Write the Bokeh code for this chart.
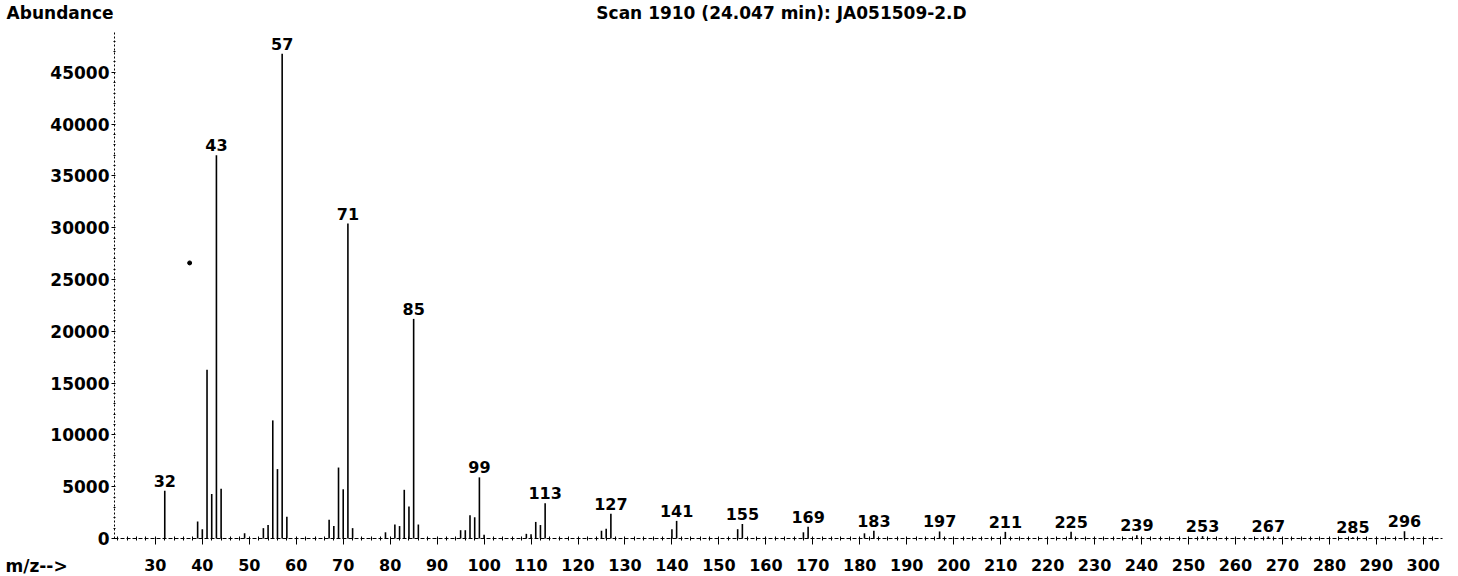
from bokeh.plotting import figure
from bokeh.models import Range1d, Label, FixedTicker
from bokeh.core.properties import value
from bokeh.embed import file_html
from bokeh.resources import INLINE

# ---- data ----
mz = [32, 39, 40, 41, 42, 43, 44, 49, 53, 54, 55, 56, 57, 58,
      67, 68, 69, 70, 71, 72, 79, 81, 82, 83, 84, 85, 86,
      95, 96, 97, 98, 99, 100, 109, 110, 111, 112, 113,
      125, 126, 127, 140, 141, 154, 155, 168, 169, 181, 183,
      197, 211, 225, 239, 253, 267, 285, 296]
abundance = [4600, 1640, 900, 16300, 4300, 37000, 4800, 500, 1000, 1300, 11400, 6700, 46800, 2100,
             1800, 1200, 6850, 4750, 30400, 1000, 600, 1350, 1200, 4700, 3100, 21200, 1350,
             800, 800, 2250, 2050, 5900, 350, 450, 400, 1600, 1300, 3400,
             750, 950, 2400, 900, 1700, 900, 1400, 600, 1130, 500, 750,
             680, 640, 640, 320, 230, 200, 130, 700]
label_mz = [32, 43, 57, 71, 85, 99, 113, 127, 141, 155, 169, 183, 197, 211, 225, 239, 253, 267, 285, 296]
speck_mz = [37.3]
speck_ab = [26600]
x_ticks = list(range(30, 301, 10))
x_minor = list(range(22, 304, 2))
y_ticks = list(range(0, 45001, 5000))
y_minor = list(range(0, 48001, 1000))
title_text = "Scan 1910 (24.047 min): JA051509-2.D"
y_label_text = "Abundance"
x_label_text = "m/z-->"

ab_map = dict(zip(mz, abundance))
label_ab = [ab_map[m] for m in label_mz]
label_txt = [str(m) for m in label_mz]

# axis extents (data) and view extents so the frame fills the canvas
AX_X0, AX_X1 = 21.3, 304
AX_Y0, AX_Y1 = 0, 48840
VIEW_X = (-2.98, 307.5)
VIEW_Y = (-3668, 51931)
FONT = "DejaVu Sans"

p = figure(width=1458, height=576, x_range=Range1d(*VIEW_X), y_range=Range1d(*VIEW_Y),
           output_backend="svg", toolbar_location=None,
           min_border_left=0, min_border_right=0, min_border_top=0, min_border_bottom=0)
p.outline_line_color = None
p.xgrid.visible = False
p.ygrid.visible = False
p.title.visible = False

p.segment(x0=mz, y0=0, x1=mz, y1=abundance, line_color="black", line_width=1.6)
p.text(x=label_mz, y=label_ab, text=label_txt, text_align="center", text_baseline="bottom",
       y_offset=-4, text_font=value(FONT), text_font_size="16px", text_font_style="bold",
       text_color="black")
p.scatter(x=speck_mz, y=speck_ab, size=4, color="black")

xa = p.xaxis[0]
xa.fixed_location = AX_Y0
xa.bounds = (AX_X0, AX_X1)
xa.ticker = FixedTicker(ticks=x_ticks, minor_ticks=x_minor)
xa.axis_line_color = "black"
xa.major_tick_line_color = "black"
xa.minor_tick_line_color = "black"
xa.major_tick_out = 6
xa.major_tick_in = 0
xa.minor_tick_out = 2
xa.minor_tick_in = 2
xa.axis_line_dash = "4 2"
xa.major_label_standoff = 15
xa.major_label_text_font = FONT
xa.major_label_text_font_size = "16px"
xa.major_label_text_font_style = "bold"
xa.major_label_text_color = "black"

ya = p.yaxis[0]
ya.fixed_location = AX_X0
ya.bounds = (AX_Y0, AX_Y1)
ya.ticker = FixedTicker(ticks=y_ticks, minor_ticks=y_minor)
ya.axis_line_color = "black"
ya.major_tick_line_color = "black"
ya.minor_tick_line_color = "black"
ya.major_tick_out = 3
ya.major_tick_in = 0
ya.minor_tick_out = 1
ya.minor_tick_in = 1
ya.axis_line_dash = "2 2"
ya.major_label_standoff = 2
ya.major_label_text_font = FONT
ya.major_label_text_font_size = "17px"
ya.major_label_text_font_style = "bold"
ya.major_label_text_color = "black"

for txt, cx, cy, align in [(title_text, 781, 12, "center"),
                           (y_label_text, 113, 12, "right"),
                           (x_label_text, 5, 565, "left")]:
    p.add_layout(Label(x=cx, y=cy, x_units="canvas", y_units="canvas", text=txt,
                       text_align=align, text_baseline="middle", text_font=FONT,
                       text_font_size="17px", text_font_style="bold", text_color="black"))

open("out.html", "w").write(file_html(p, INLINE))
